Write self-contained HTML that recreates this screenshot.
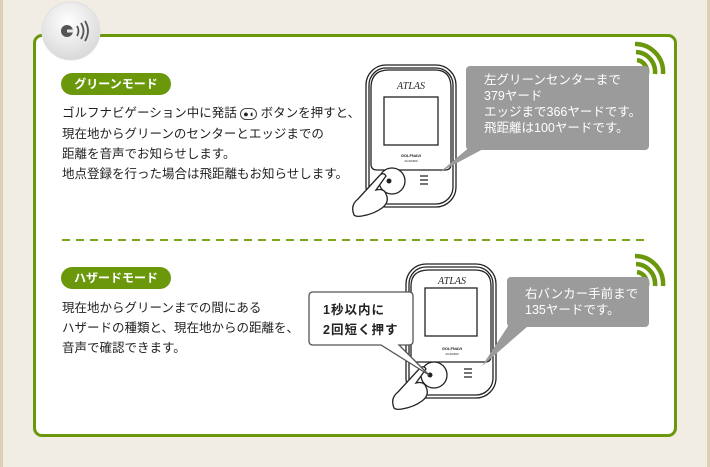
<!DOCTYPE html>
<html><head><meta charset="utf-8"><style>
body{margin:0;width:710px;height:467px;background:#f1ece4;position:relative;overflow:hidden;font-family:"Liberation Sans","Noto Sans CJK JP",sans-serif;}
.edgeL{position:absolute;left:0;top:0;width:3px;height:467px;background:#dccfb2}
.edgeR{position:absolute;right:0;top:0;width:3px;height:467px;background:#dccfb2}
.panel{position:absolute;left:33px;top:34px;width:638px;height:397px;border:3px solid #6b980b;border-radius:9px;background:#fff}
.pill{position:absolute;left:61px;width:110px;height:22px;border-radius:11px;background:#6b980b;color:#fff;font-size:12px;font-weight:bold;line-height:22px;text-align:center}
.txt{position:absolute;left:62px;font-size:12.5px;line-height:20px;color:#222;white-space:nowrap}
.bub{position:absolute;background:#9b9b9b;color:#fff;font-size:12.5px;font-weight:normal;line-height:16px;border-radius:4px;padding:6px 0 0 18px;box-sizing:border-box;white-space:nowrap}
</style></head><body>
<div class="edgeL"></div><div class="edgeR"></div>
<div class="panel"></div>
<svg width="710" height="467" style="position:absolute;left:0;top:0">
<defs><radialGradient id="g" cx="45%" cy="35%" r="70%"><stop offset="0" stop-color="#fff"/><stop offset="1" stop-color="#d6d6d6"/></radialGradient></defs>
<circle cx="71" cy="31" r="29" fill="url(#g)" stroke="#e0e0e0"/>
<circle cx="67" cy="31" r="6" fill="#555"/><rect x="67" y="29.5" width="7" height="3" fill="#e8e8e8"/>
<path d="M77 26 q3 5 0 10 M81 23 q5 8 0 16 M85 21 q6 10 0 20" stroke="#555" stroke-width="1.8" fill="none"/>
<line x1="62" y1="240" x2="650" y2="240" stroke="#7ca51a" stroke-width="2" stroke-dasharray="8,6"/>
<g fill="#fff" stroke="#222" stroke-width="1.3">
<rect x="366" y="65" width="90" height="142" rx="20"/>
<rect x="369" y="68" width="84" height="136" rx="17"/>
<path d="M371 88 q0-18 18-18 h46 q16 0 16 18 v76 q0 6-6 6 h-68 q-6 0-6-6z"/>
<rect x="384" y="97" width="54" height="48"/>
<circle cx="392" cy="181" r="13"/>
<path d="M420 176 h8 M420 180 h8 M420 184 h8"/>
</g>
<text x="411" y="89" font-family="Liberation Serif" font-style="italic" font-size="10" text-anchor="middle" fill="#222">ATLAS</text>
<text x="411" y="157" font-size="4" font-weight="bold" text-anchor="middle" fill="#222">GOLFNAVI</text>
<text x="411" y="162" font-size="3" text-anchor="middle" fill="#222">AGN3300</text>
<path d="M354 215 q-4-10 4-16 l22-24 q4-3 6 1 l-10 14 q8-2 10 4 q4 8-4 14 q-8 6-20 8 q-6 1-8-1z" fill="#fff" stroke="#222" stroke-width="1.3"/>
<circle cx="389" cy="181" r="2.5" fill="#222"/>
<polygon points="440,172 478,140 500,140" fill="#9b9b9b"/>
<g fill="#fff" stroke="#222" stroke-width="1.3">
<rect x="406" y="264" width="90" height="134" rx="20"/>
<rect x="409" y="267" width="84" height="128" rx="17"/>
<path d="M411 286 q0-16 18-16 h46 q16 0 16 16 v70 q0 6-6 6 h-68 q-6 0-6-6z"/>
<rect x="425" y="288" width="52" height="48"/>
<circle cx="434" cy="375" r="13"/>
<path d="M464 369 h8 M464 373 h8 M464 377 h8"/>
</g>
<text x="452" y="284" font-family="Liberation Serif" font-style="italic" font-size="10" text-anchor="middle" fill="#222">ATLAS</text>
<text x="452" y="350" font-size="4" font-weight="bold" text-anchor="middle" fill="#222">GOLFNAVI</text>
<text x="452" y="355" font-size="3" text-anchor="middle" fill="#222">AGN3300</text>
<path d="M394 408 q-4-10 4-16 l22-24 q4-3 6 1 l-10 14 q8-2 10 4 q4 8-4 14 q-8 6-20 8 q-6 1-8-1z" fill="#fff" stroke="#222" stroke-width="1.3"/>
<circle cx="430" cy="375" r="2.5" fill="#222"/>
<polygon points="482,366 512,320 535,320" fill="#9b9b9b"/>
<path d="M313 292 h96 q4 0 4 4 v45 q0 4-4 4 h-10 l30 30 l-48-30 h-68 q-4 0-4-4 v-45 q0-4 4-4z" fill="#fff" stroke="#555" stroke-width="1.3"/>
<g fill="none" stroke="#6b980b" stroke-width="4.5">
<path d="M637 60 a12 12 0 0 1 10 14"/><path d="M636 52 a20 20 0 0 1 19 22"/><path d="M635 44 a28 28 0 0 1 28 30"/>
<path d="M637 272 a12 12 0 0 1 10 14"/><path d="M636 264 a20 20 0 0 1 19 22"/><path d="M635 256 a28 28 0 0 1 28 30"/>
</g>
</svg>
<div class="pill" style="top:73px">グリーンモード</div>
<div class="txt" style="top:103px">ゴルフナビゲーション中に発話 <span style="font-size:9px;border:1px solid #444;border-radius:7px;padding:0 2px">●◖</span> ボタンを押すと、<br>現在地からグリーンのセンターとエッジまでの<br>距離を音声でお知らせします。<br>地点登録を行った場合は飛距離もお知らせします。</div>
<div class="bub" style="left:466px;top:66px;width:183px;height:84px">左グリーンセンターまで<br>379ヤード<br>エッジまで366ヤードです。<br>飛距離は100ヤードです。</div>
<div class="pill" style="top:267px">ハザードモード</div>
<div class="txt" style="top:298px">現在地からグリーンまでの間にある<br>ハザードの種類と、現在地からの距離を、<br>音声で確認できます。</div>
<div class="bub" style="left:507px;top:277px;width:142px;height:50px;padding-top:9px">右バンカー手前まで<br>135ヤードです。</div>
<div style="position:absolute;left:323px;top:300px;font-size:12.5px;font-weight:bold;line-height:20px;color:#222;letter-spacing:1px">1秒以内に<br>2回短く押す</div>
</body></html>
